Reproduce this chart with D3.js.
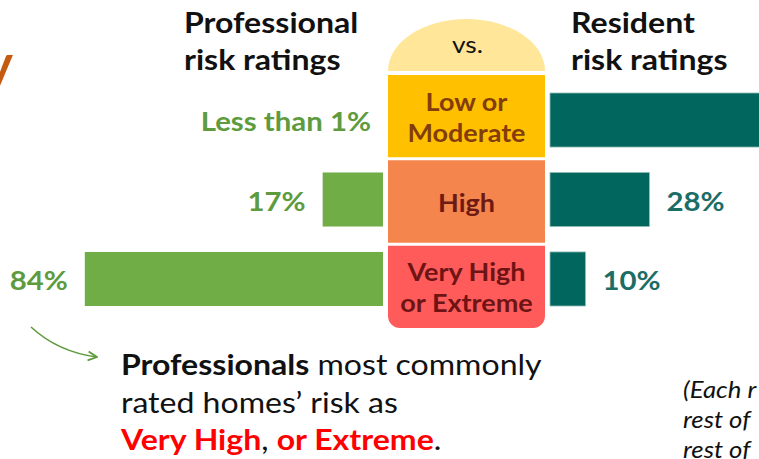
<!DOCTYPE html>
<html><head><meta charset="utf-8">
<script src="https://cdn.jsdelivr.net/npm/d3@7"></script>
<style>html,body{margin:0;padding:0;background:#fff;overflow:hidden}svg{display:block;font-family:Lato,"Open Sans",sans-serif}</style>
</head><body><svg id="c" width="759" height="459"></svg>
<script>
const categories = ["Low or Moderate", "High", "Very High or Extreme"];
const categoryLines = [["Low or", "Moderate"], ["High"], ["Very High", "or Extreme"]];
const professional = [0, 17, 84];
const professionalLabels = ["Less than 1%", "17%", "84%"];
const resident = [62, 28, 10];
const residentLabels = ["", "28%", "10%"];
const boxColors = ["#FFC000", "#F4854D", "#FF5B5B"];
const boxTextColors = ["#833C0B", "#6E1A14", "#6E1414"];

const svg = d3.select("#c");
const cx0 = 388, cx1 = 545;
const y = d3.scaleBand().domain(categories).range([93, 306]).paddingInner(0.32);
const yBox = d3.scaleBand().domain(categories).range([75, 328]).paddingInner(0.036);
const xL = d3.scaleLinear().domain([0, 100]).range([0, 355]);
const xR = d3.scaleLinear().domain([0, 100]).range([0, 355]);
const leftEdge = 383, rightEdge = 550;

function stext(parent, x, yy, sx, anchor) {
  return parent.append("g").attr("transform", `translate(${x},${yy}) scale(${sx},1)`)
    .append("text").attr("text-anchor", anchor || "start");
}

// orange title fragment
svg.append("text").attr("x", 13).attr("y", 82).attr("text-anchor", "end")
  .attr("font-size", 52).attr("font-weight", 700).attr("fill", "#C55A11").text("y");

// headers
const hdr = svg.append("g").attr("font-size", 28).attr("font-weight", 700).attr("fill", "#111");
stext(hdr, 184, 33, 1.145).text("Professional");
stext(hdr, 184, 70, 1.145).text("risk ratings");
stext(hdr, 571, 33, 1.145).text("Resident");
stext(hdr, 571, 70, 1.145).text("risk ratings");

// vs cap
const capCx = (cx0 + cx1) / 2, capRx = (cx1 - cx0) / 2;
svg.append("path")
  .attr("d", `M${cx0},71 A${capRx},52 0 0 1 ${cx1},71 Z`)
  .attr("fill", "#FFE699");
stext(svg, capCx + 1, 53, 1.1, "middle").attr("font-size", 24).attr("fill", "#111").text("vs.");

// center boxes
categories.forEach((c, i) => {
  const y0 = yBox(c), h = yBox.bandwidth(), r = 12;
  let d;
  if (i === categories.length - 1) {
    d = `M${cx0},${y0} H${cx1} V${y0 + h - r} A${r},${r} 0 0 1 ${cx1 - r},${y0 + h} H${cx0 + r} A${r},${r} 0 0 1 ${cx0},${y0 + h - r} Z`;
  } else {
    d = `M${cx0},${y0} H${cx1} V${y0 + h} H${cx0} Z`;
  }
  svg.append("path").attr("d", d).attr("fill", boxColors[i]);
  const lines = categoryLines[i];
  const mid = y0 + h / 2;
  const lh = 31;
  lines.forEach((t, j) => {
    stext(svg, capCx, mid + (j - (lines.length - 1) / 2) * lh + 10, 1.08, "middle")
      .attr("font-size", 25).attr("font-weight", 700)
      .attr("fill", boxTextColors[i]).text(t);
  });
});

// professional bars
svg.append("g").selectAll("rect").data(professional).join("rect")
  .attr("x", d => leftEdge - xL(d)).attr("width", d => xL(d))
  .attr("y", (d, i) => y(categories[i])).attr("height", y.bandwidth())
  .attr("fill", "#70AD47");
const pl = svg.append("g").attr("font-size", 26).attr("font-weight", 700).attr("fill", "#5E9B3E");
professional.forEach((d, i) => {
  const x = i === 0 ? 371 : leftEdge - xL(d) - 17;
  stext(pl, x, y(categories[i]) + y.bandwidth() / 2 + 11, 1.13, "end").text(professionalLabels[i]);
});

// resident bars
svg.append("g").selectAll("rect").data(resident).join("rect")
  .attr("x", rightEdge).attr("width", d => xR(d))
  .attr("y", (d, i) => y(categories[i])).attr("height", y.bandwidth())
  .attr("fill", "#00665E").attr("stroke", "#8FBDB8").attr("stroke-width", 0.8);
const rl = svg.append("g").attr("font-size", 26).attr("font-weight", 700).attr("fill", "#1B6D66");
resident.forEach((d, i) => {
  if (!residentLabels[i]) return;
  stext(rl, rightEdge + xR(d) + 17, y(categories[i]) + y.bandwidth() / 2 + 11, 1.13).text(residentLabels[i]);
});

// arrow
svg.append("defs").append("marker").attr("id", "ah").attr("viewBox", "0 0 10 10")
  .attr("refX", 9).attr("refY", 5).attr("markerWidth", 7).attr("markerHeight", 7)
  .attr("orient", "auto").append("path").attr("d", "M1,1 L9,5 L1,9")
  .attr("fill", "none").attr("stroke", "#5E9B3E").attr("stroke-width", 1.6);
svg.append("path").attr("d", "M31,327 Q58,352 97,357")
  .attr("fill", "none").attr("stroke", "#5E9B3E").attr("stroke-width", 1.6)
  .attr("marker-end", "url(#ah)");

// bottom text
const bt = svg.append("g").attr("font-size", 28).attr("fill", "#111");
const l1 = stext(bt, 121, 375, 1.145);
l1.append("tspan").attr("font-weight", 700).text("Professionals");
l1.append("tspan").text(" most commonly");
stext(bt, 121, 413, 1.145).text("rated homes\u2019 risk as");
const l3 = stext(bt, 121, 450, 1.145);
l3.append("tspan").attr("font-weight", 700).attr("fill", "#FF0000").text("Very High");
l3.append("tspan").text(", ");
l3.append("tspan").attr("font-weight", 700).attr("fill", "#FF0000").text("or Extreme");
l3.append("tspan").text(".");

// side note
const sn = svg.append("g").attr("font-size", 23).attr("font-style", "italic").attr("fill", "#111");
stext(sn, 683, 398, 1.12).text("(Each r");
stext(sn, 683, 428, 1.12).text("rest of");
stext(sn, 683, 458, 1.12).text("rest of");
</script></body></html>
